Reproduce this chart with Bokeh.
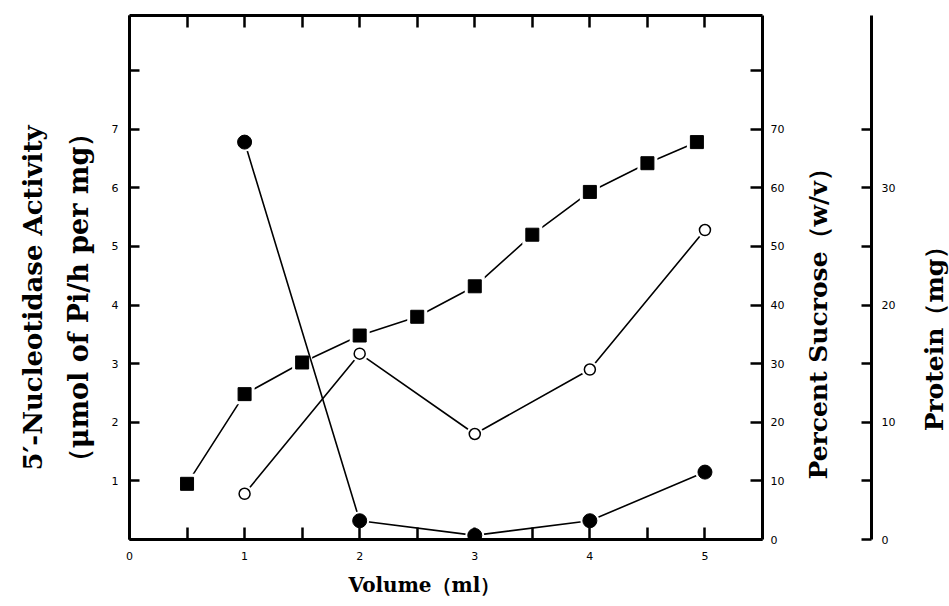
import math
from bokeh.plotting import figure
from bokeh.layouts import row
from bokeh.models import LinearAxis, Range1d, FixedTicker, Label, Title
from bokeh.embed import file_html
from bokeh.resources import INLINE

# ---- data ----
volume_sucrose = [0.5, 1.0, 1.5, 2.0, 2.5, 3.0, 3.5, 4.0, 4.5, 4.93]
sucrose_pct = [9.5, 24.8, 30.2, 34.8, 38.0, 43.2, 52.0, 59.3, 64.2, 67.8]

volume_activity = [1, 2, 3, 4, 5]
activity = [0.78, 3.17, 1.80, 2.90, 5.28]   # umol Pi/h per mg

volume_protein = [1, 2, 3, 4, 5]
protein_mg = [33.9, 1.6, 0.35, 1.6, 5.75]

x_ticks = [0, 0.5, 1, 1.5, 2, 2.5, 3, 3.5, 4, 4.5, 5]
x_tick_labels = ["0", "", "1", "", "2", "", "3", "", "4", "", "5"]
act_ticks = [0, 1, 2, 3, 4, 5, 6, 7, 8]
act_tick_labels = ["", "1", "2", "3", "4", "5", "6", "7", ""]
suc_ticks = [0, 10, 20, 30, 40, 50, 60, 70, 80]
suc_tick_labels = ["0", "10", "20", "30", "40", "50", "60", "70", ""]
prot_ticks = [0, 5, 10, 15, 20, 25, 30, 35]
prot_tick_labels = ["0", "", "10", "", "20", "", "30", ""]

title_x = "Volume（ml）"
title_y1 = "5′-Nucleotidase  Activity"
title_y2 = "（μmol of Pi/h per mg）"
title_suc = "Percent  Sucrose（w/v）"
title_prot = "Protein（mg）"

TITLE_FONT = "DejaVu Serif"
TICK_FONT = "DejaVu Sans"
H = 606
TOP, BOTTOM = 15, 67
FRAME_BOTTOM = H - BOTTOM

# widths of the four side-by-side panels (total 949)
W_LEFT, W_MAIN, W_MID, W_RIGHT = 105, 685, 108, 51
X_MAIN, X_MID, X_RIGHT = W_LEFT, W_LEFT + W_MAIN, W_LEFT + W_MAIN + W_MID


def style_axis(ax, tick_in, label_standoff, font_size="11px"):
    ax.axis_line_width = 3
    ax.axis_line_color = "black"
    ax.major_tick_in = tick_in
    ax.major_tick_out = 0
    ax.major_tick_line_width = 2.5
    ax.major_tick_line_color = "black"
    ax.minor_tick_line_color = None
    ax.major_label_standoff = label_standoff
    ax.major_label_text_font = TICK_FONT
    ax.major_label_text_font_size = font_size
    ax.major_label_text_color = "black"


def add_title(fig, fig_x0, text, x_px, y_px, size):
    # screen units are measured from the plot frame's lower-left corner
    fig.add_layout(Label(x=x_px - fig_x0, y=FRAME_BOTTOM - y_px,
                         x_units="screen", y_units="screen", text=text, angle=math.pi / 2,
                         text_align="center", text_baseline="middle",
                         text_font=TITLE_FONT, text_font_style="bold",
                         text_font_size=size, text_color="black"))


def blank_fig(width):
    f = figure(width=width, height=H, x_range=Range1d(0, 1), y_range=Range1d(0, 1),
               output_backend="svg", toolbar_location=None, title=None,
               x_axis_location=None, y_axis_location=None,
               min_border_left=0, min_border_right=0,
               min_border_top=TOP, min_border_bottom=BOTTOM,
               outline_line_color=None, background_fill_color="white",
               border_fill_color="white")
    f.grid.visible = False
    return f


# ---------- left panel: y-axis titles ----------
left = blank_fig(W_LEFT)
add_title(left, 0, title_y1, 32, 293, "26px")
add_title(left, 0, title_y2, 78, 297, "27px")

# ---------- main plot ----------
p = figure(width=W_MAIN, height=H, x_range=Range1d(0, 5.5), y_range=Range1d(0, 8.94),
           output_backend="svg", toolbar_location=None, title=None,
           min_border_left=24, min_border_right=28, min_border_top=TOP, min_border_bottom=BOTTOM,
           outline_line_color=None, background_fill_color="white", border_fill_color="white")
p.grid.visible = False
p.extra_y_ranges = {"suc": Range1d(0, 89.4)}

xa = p.xaxis[0]
xa.ticker = FixedTicker(ticks=x_ticks)
xa.major_label_overrides = {t: s for t, s in zip(x_ticks, x_tick_labels)}
style_axis(xa, 12, 12)

ta = LinearAxis(ticker=FixedTicker(ticks=x_ticks))
ta.major_label_overrides = {t: "" for t in x_ticks}
style_axis(ta, 12, 0, "1px")
p.add_layout(ta, "above")

ya = p.yaxis[0]
ya.ticker = FixedTicker(ticks=act_ticks)
ya.major_label_overrides = {t: s for t, s in zip(act_ticks, act_tick_labels)}
style_axis(ya, 10, 11)

sa = LinearAxis(y_range_name="suc", ticker=FixedTicker(ticks=suc_ticks))
sa.major_label_overrides = {t: s for t, s in zip(suc_ticks, suc_tick_labels)}
style_axis(sa, 12, 8)
p.add_layout(sa, "right")

xt = Title(text=title_x, align="left", offset=348 - (X_MAIN + 24), standoff=16,
           text_font=TITLE_FONT, text_font_style="bold", text_font_size="20px",
           text_color="black")
p.add_layout(xt, "below")

# sucrose: filled squares
p.line(volume_sucrose, sucrose_pct, y_range_name="suc", line_color="black", line_width=1.6)
p.scatter(volume_sucrose, sucrose_pct, y_range_name="suc", marker="square", size=20,
          fill_color="white", line_color=None)
p.scatter(volume_sucrose, sucrose_pct, y_range_name="suc", marker="square", size=13,
          fill_color="black", line_color="black")

# activity: open circles
p.line(volume_activity, activity, line_color="black", line_width=1.6)
p.scatter(volume_activity, activity, marker="circle", size=17, fill_color="white", line_color=None)
p.scatter(volume_activity, activity, marker="circle", size=11, fill_color="white",
          line_color="black", line_width=1.5)

# ---------- mid panel: sucrose title + protein axis ----------
mid = figure(width=W_MID, height=H, x_range=Range1d(0, 1), y_range=Range1d(0, 44.7),
             output_backend="svg", toolbar_location=None, title=None,
             x_axis_location=None, y_axis_location="right",
             min_border_left=0, min_border_right=25, min_border_top=TOP, min_border_bottom=BOTTOM,
             outline_line_color=None, background_fill_color="white", border_fill_color="white")
mid.grid.visible = False
pa = mid.yaxis[0]
pa.ticker = FixedTicker(ticks=prot_ticks)
pa.major_label_overrides = {t: s for t, s in zip(prot_ticks, prot_tick_labels)}
style_axis(pa, 10, 10)
add_title(mid, X_MID, title_suc, 818, 313, "25px")

# protein: filled circles share the protein scale with the mid panel's axis
p.extra_y_ranges["prot"] = mid.y_range
p.line(volume_protein, protein_mg, y_range_name="prot", line_color="black", line_width=1.6)
p.scatter(volume_protein, protein_mg, y_range_name="prot", marker="circle", size=19,
          fill_color="white", line_color=None)
p.scatter(volume_protein, protein_mg, y_range_name="prot", marker="circle", size=14,
          fill_color="black", line_color="black")

# ---------- right panel: protein title ----------
right = blank_fig(W_RIGHT)
add_title(right, X_RIGHT, title_prot, 934, 332, "25px")

layout = row(left, p, mid, right, spacing=0)
open("out.html", "w").write(file_html(layout, INLINE))
